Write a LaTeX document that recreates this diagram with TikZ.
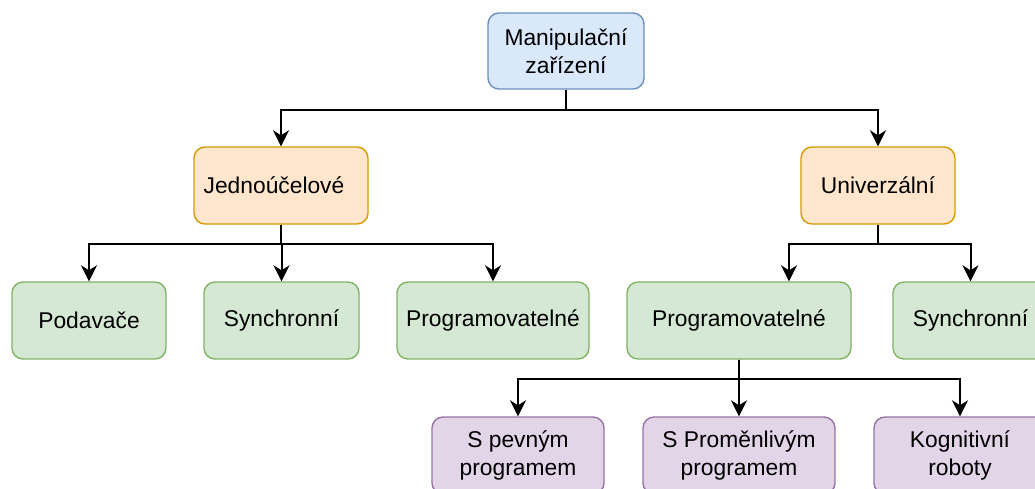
\documentclass[tikz,border=0pt]{standalone}
\usepackage{fontspec}
\setmainfont{Liberation Sans}
\usetikzlibrary{arrows.meta}
\definecolor{bluefill}{HTML}{DAE8FC}\definecolor{bluedraw}{HTML}{6C8EBF}
\definecolor{orangefill}{HTML}{FFE6CC}\definecolor{orangedraw}{HTML}{D79B00}
\definecolor{greenfill}{HTML}{D5E8D4}\definecolor{greendraw}{HTML}{82B366}
\definecolor{purplefill}{HTML}{E1D5E7}\definecolor{purpledraw}{HTML}{9673A6}
\tikzset{
  box/.style={rectangle, rounded corners=11pt, line width=1.4pt, minimum height=77pt,
    inner sep=0pt, align=center, font=\fontsize{22.8}{28.5}\selectfont},
  rootbox/.style={box, fill=bluefill, draw=bluedraw, minimum height=76pt},
  groupbox/.style={box, fill=orangefill, draw=orangedraw},
  leafbox/.style={box, fill=greenfill, draw=greendraw},
  subbox/.style={box, fill=purplefill, draw=purpledraw},
  link/.style={line width=2pt, -{Stealth[length=16pt,width=16pt,inset=5pt]}},
}
\begin{document}
\begin{tikzpicture}[x=1pt,y=-1pt]
  \useasboundingbox (0,0) rectangle (1035,488);
  \clip (0,0) rectangle (1035,488);
  \fill[white] (0,0) rectangle (1035,488);

  % root
  \node[rootbox, minimum width=156pt] (root) at (566,51) {Manipulační\\zařízení};

  % second level
  \node[groupbox, minimum width=174pt] (jed) at (281,185.5) {Jednoúčelové\hspace{14pt}};
  \node[groupbox, minimum width=154pt] (uni) at (878,185.5) {Univerzální};

  % third level
  \node[leafbox, minimum width=154pt] (pod)   at (89,320.5)    {Podavače};
  \node[leafbox, minimum width=155pt] (syn1)  at (281.5,320.5) {Synchronní};
  \node[leafbox, minimum width=192pt] (prog1) at (493,320.5)   {Programovatelné};
  \node[leafbox, minimum width=224pt] (prog2) at (739,320.5)   {Programovatelné};
  \node[leafbox, minimum width=155pt] (syn2)  at (970.5,320.5) {Synchronní};

  % fourth level
  \node[subbox, minimum width=172pt] (spev)  at (518,455.5) {S pevným\\programem};
  \node[subbox, minimum width=192pt] (sprom) at (739,455.5) {S Proměnlivým\\programem};
  \node[subbox, minimum width=172pt] (kog)   at (960,455.5) {Kognitivní\\roboty};

  % connectors
  \draw[link] (root.south) -- ++(0,20) -| (jed.north);
  \draw[link] (root.south) -- ++(0,20) -| (uni.north);

  \draw[link] (jed.south) -- ++(0,19) -| (pod.north);
  \draw[link] (jed.south) -- ++(0,19) -| (syn1.north);
  \draw[link] (jed.south) -- ++(0,19) -| (prog1.north);

  \draw[link] (uni.south) -- ++(0,19) -| ([xshift=50pt]prog2.north);
  \draw[link] (uni.south) -- ++(0,19) -| (syn2.north);

  \draw[link] (prog2.south) -- ++(0,19) -| (spev.north);
  \draw[link] (prog2.south) -- ++(0,19) -| (sprom.north);
  \draw[link] (prog2.south) -- ++(0,19) -| (kog.north);
\end{tikzpicture}
\end{document}
